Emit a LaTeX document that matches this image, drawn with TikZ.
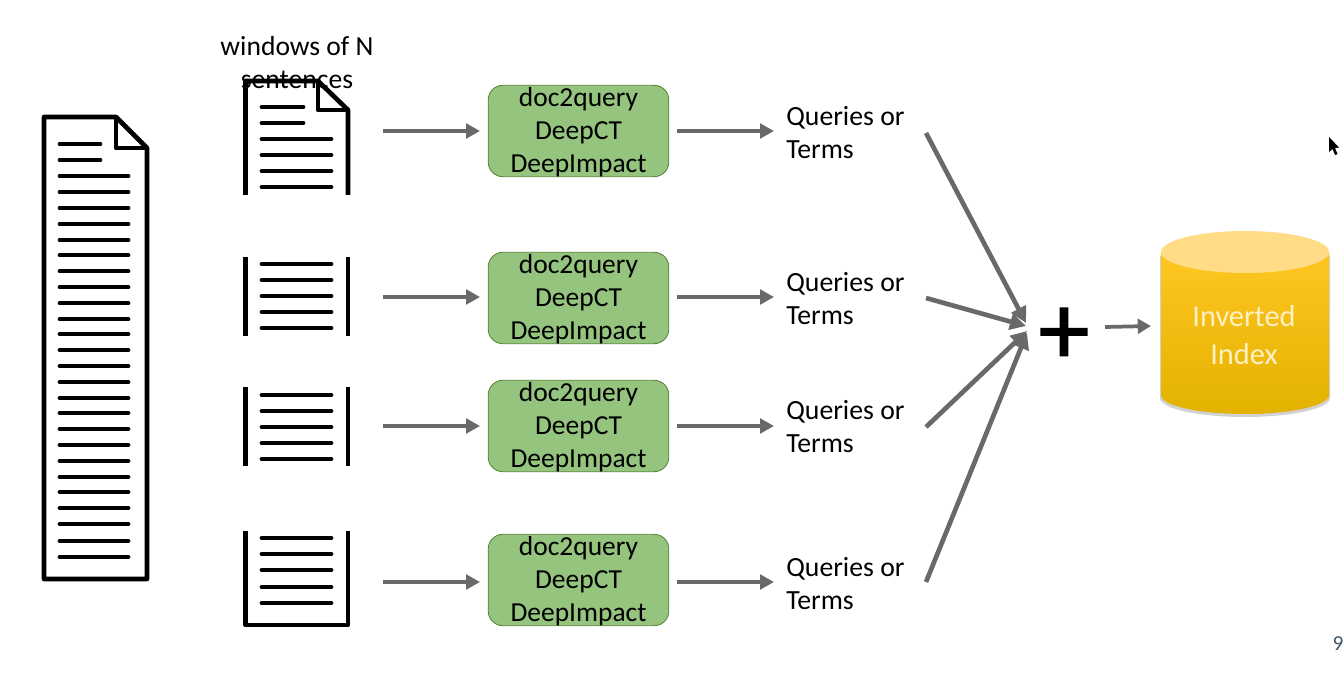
\documentclass[tikz,border=0pt]{standalone}
\usepackage{fontspec}
\setmainfont{Carlito}
\usetikzlibrary{arrows.meta}
\definecolor{arrowgray}{HTML}{696969}
\definecolor{modelgreen}{HTML}{94C47D}
\definecolor{modeledge}{HTML}{548235}
\definecolor{drumtop}{HTML}{FFC622}
\definecolor{drummid}{HTML}{FFC600}
\definecolor{drumlow}{HTML}{E3B200}
\definecolor{drumlid}{HTML}{FFDC85}
\definecolor{drumtext}{HTML}{FFF0C4}
\definecolor{slatepage}{HTML}{44546A}
\newcommand{\modellabel}{doc2query\\DeepCT\\\raisebox{0pt}[\height][2pt]{DeepImpact}}
\tikzset{
  model/.style={draw=modeledge,fill=modelgreen,rounded corners=11pt,line width=0.6pt,
    minimum width=135.5pt,minimum height=68.5pt,inner sep=0pt,align=center,
    font=\fontsize{20.6}{24.75}\selectfont},
  output/.style={anchor=west,align=left,inner sep=0pt,font=\fontsize{20.8}{24.75}\selectfont},
  flow/.style={draw=arrowgray,line width=3.4pt,-{Triangle[length=10.5pt,width=11pt]}},
  merge/.style={draw=arrowgray,line width=3.5pt,-{Triangle[length=12pt,width=12pt]}},
  page/.style={draw=black,line width=3.5pt,line join=round},
  textline/.style={draw=black,line width=3.6pt,line cap=round}
}
\begin{document}
\begin{tikzpicture}[x=0.75pt,y=-0.75pt]
  \useasboundingbox (0,0) rectangle (1344,680);

  % whole document
  \draw[page] (44,579) -- (44,117) -- (116,117) -- (147,148) -- (147,579) -- cycle;
  \draw[page] (116,117) -- (116,148) -- (147,148);
  \foreach \y in {144,160} \draw[textline] (60,\y) -- (100,\y);
  \foreach \y in {176,192,208,224,240,255,271,287,303,319,334,350,366,382,398,413,429,445,461,477,492,508,524,541,557}
    \draw[textline] (60,\y) -- (128,\y);

  % windows
  \draw[page] (245.5,195) -- (245.5,81) -- (318,81) -- (348,110) -- (348,195);
  \draw[page] (318,81) -- (318,110) -- (348,110);
  \foreach \y in {107,123} \draw[textline] (262,\y) -- (303,\y);
  \foreach \y in {139,155,171,187} \draw[textline] (262,\y) -- (331,\y);

  \draw[page] (245.5,257) -- (245.5,336);
  \draw[page] (348,257) -- (348,336);
  \foreach \y in {264,280,296,312,328} \draw[textline] (262,\y) -- (331,\y);

  \draw[page] (245.5,387) -- (245.5,466);
  \draw[page] (348,387) -- (348,466);
  \foreach \y in {395,411,427,443,459} \draw[textline] (262,\y) -- (331,\y);

  \draw[page] (245.5,531) -- (245.5,625) -- (348,625) -- (348,531);
  \foreach \y in {538,554,570,587,603} \draw[textline] (262,\y) -- (331,\y);

  \node[align=center,inner sep=0pt,font=\fontsize{20.7}{24.75}\selectfont] (title) at (297,63) {windows of N\\sentences};

  % models
  \node[model] (m1) at (578.5,131) {\modellabel};
  \node[model] (m2) at (578.5,298) {\modellabel};
  \node[model] (m3) at (578.5,426) {\modellabel};
  \node[model] (m4) at (578.5,580) {\modellabel};

  % outputs
  \node[output] (q1) at (786,133) {Queries or\\Terms};
  \node[output] (q2) at (786,299) {Queries or\\Terms};
  \node[output] (q3) at (786,427) {Queries or\\Terms};
  \node[output] (q4) at (786,584) {Queries or\\Terms};

  % arrow ends
  \coordinate (w1) at (383,131);
  \coordinate (w2) at (383,297);
  \coordinate (w3) at (383,426);
  \coordinate (w4) at (383,582);
  \coordinate (a1) at (480,131);
  \coordinate (a2) at (480,297);
  \coordinate (a3) at (480,426);
  \coordinate (a4) at (480,582);
  \coordinate (b1) at (677,131);
  \coordinate (b2) at (677,297);
  \coordinate (b3) at (677,426);
  \coordinate (b4) at (677,582);
  \coordinate (c1) at (774,131);
  \coordinate (c2) at (774,297);
  \coordinate (c3) at (774,426);
  \coordinate (c4) at (774,582);
  \coordinate (d1) at (926,133);
  \coordinate (d2) at (926,298);
  \coordinate (d3) at (926,427);
  \coordinate (d4) at (926,582);
  \coordinate (e1) at (1026,323);
  \coordinate (e2) at (1026,326);
  \coordinate (e3) at (1027,331);
  \coordinate (e4) at (1027,333);

  \draw[flow] (w1) -- (a1);
  \draw[flow] (w2) -- (a2);
  \draw[flow] (w3) -- (a3);
  \draw[flow] (w4) -- (a4);
  \draw[flow] (b1) -- (c1);
  \draw[flow] (b2) -- (c2);
  \draw[flow] (b3) -- (c3);
  \draw[flow] (b4) -- (c4);
  \draw[merge] (d1) -- (e1);
  \draw[merge] (d2) -- (e2);
  \draw[merge] (d3) -- (e3);
  \draw[merge] (d4) -- (e4);

  % plus
  \node[inner sep=0pt,font=\fontsize{76}{76}\selectfont\addfontfeature{FakeBold=1.5}] (plus) at (1064,336) {+};
  \coordinate (p1) at (1105,327);
  \coordinate (p2) at (1151,326);
  \draw[draw=arrowgray,line width=2.8pt,-{Triangle[length=10pt,width=11pt]}] (p1) -- (p2);

  % inverted index
  \fill[black!18] (1160,256) -- (1160,398) arc[start angle=180,end angle=0,x radius=85,y radius=19] -- (1330,256) -- cycle;
  \shade[top color=drumtop,middle color=drummid,bottom color=drumlow]
    (1161,252) -- (1161,395) arc[start angle=180,end angle=0,x radius=84,y radius=19] -- (1329,252) -- cycle;
  \fill[drumlid] (1245,252) ellipse[x radius=84,y radius=21];
  \node[align=center,inner sep=0pt,text=drumtext,font=\fontsize{22.8}{28.5}\selectfont] (idx) at (1244,335) {Inverted\\Index};

  % slide leftovers
  \fill[black] (1329,137) -- (1329,152) -- (1332.5,149) -- (1335,155) -- (1337.5,154) -- (1335,148) -- (1339,147.5) -- cycle;
  \node[inner sep=0pt,text=slatepage,font=\fontsize{16}{16}\selectfont] (pagenum) at (1338,644) {9};
\end{tikzpicture}
\end{document}
